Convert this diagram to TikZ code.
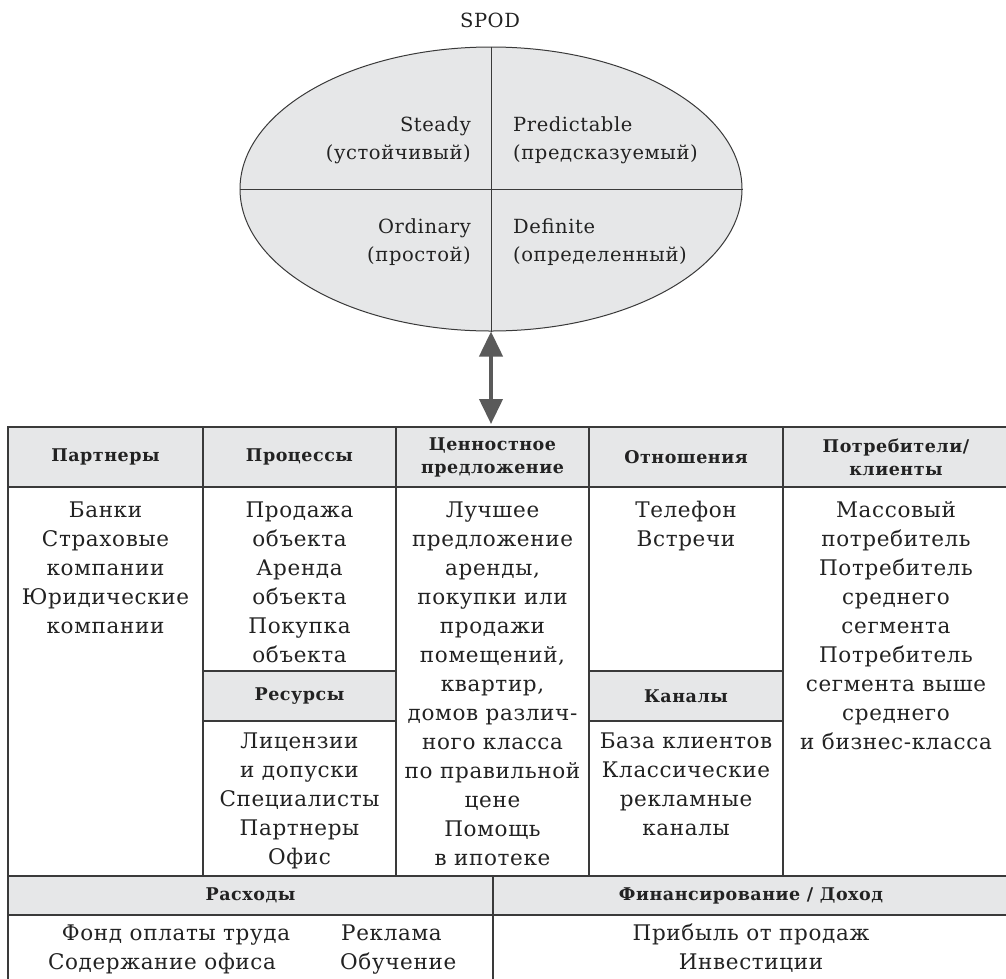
\documentclass[tikz,border=0pt]{standalone}
\usepackage{fontspec}
\setmainfont[LetterSpace=3]{DejaVu Serif}
\usetikzlibrary{arrows.meta,shapes.geometric}
\definecolor{cellgray}{HTML}{E6E7E8}
\definecolor{linec}{HTML}{3A3A3A}
\definecolor{arrowc}{HTML}{5A5A5A}
\definecolor{txt}{HTML}{222222}
\newcommand\bodyfs{\fontsize{21.5}{29}\selectfont}
\newcommand\ellfs{\fontsize{19.5}{28}\selectfont}
\newcommand\headfs{\fontsize{17.5}{23}\selectfont\bfseries}
\begin{document}
\begin{tikzpicture}[x=1pt,y=-1pt,
  body/.style={font=\bodyfs, text=txt, inner sep=0pt, align=center, anchor=north, yshift=20.3pt},
  ellr/.style={font=\ellfs, text=txt, inner sep=0pt, align=right, anchor=north east, yshift=19.6pt},
  elll/.style={font=\ellfs, text=txt, inner sep=0pt, align=left, anchor=north west, yshift=19.6pt},
  line/.style={font=\bodyfs, text=txt, inner sep=0pt},
  hcell/.style={draw=linec, line width=1.4pt, fill=cellgray, inner sep=0pt, align=center, font=\headfs, text=txt},
  grid/.style={draw=linec, line width=1.4pt},
]
\clip (0,0) rectangle (1006,978);
\fill[white] (0,0) rectangle (1006,978);

% SPOD ellipse
\node[font=\ellfs, text=txt, inner sep=0pt, anchor=base] (title) at (490,27) {SPOD};
\node[ellipse, draw=linec, line width=1pt, fill=cellgray, minimum width=502pt, minimum height=284pt, inner sep=0pt] (ell) at (491,189) {};
\draw[draw=linec, line width=1pt] (ell.north) -- (ell.south);
\draw[draw=linec, line width=1pt] (ell.west) -- (ell.east);
\node[ellr] (steady) at (471,131) {\strut Steady\\(устойчивый)};
\node[elll] (pred) at (513,131) {\strut Predictable\\(предсказуемый)};
\node[ellr] (ordin) at (471,233) {\strut Ordinary\\(простой)};
\node[elll] (defin) at (513,233) {\strut Definite\\(определенный)};

% arrow
\coordinate (tabtop) at (491,424);
\draw[arrowc, line width=4pt, {Triangle[length=25pt,width=23pt]}-{Triangle[length=25pt,width=23pt]}] (ell.south) -- (tabtop);

% table grid
\draw[grid] (8,1000) -- (8,427) -- (1012,427);
\draw[grid] (203,487) -- (203,876);
\draw[grid] (396,487) -- (396,876);
\draw[grid] (589,487) -- (589,876);
\draw[grid] (783,487) -- (783,876);
\draw[grid] (493,915) -- (493,1000);
\draw[grid] (8,876) -- (1012,876);

% header cells
\node[hcell, minimum width=195pt, minimum height=60pt] (h1) at (105.5,457) {Партнеры};
\node[hcell, minimum width=193pt, minimum height=60pt] (h2) at (299.5,457) {Процессы};
\node[hcell, minimum width=193pt, minimum height=60pt] (h3) at (492.5,457) {Ценностное\\предложение};
\node[hcell, minimum width=194pt, minimum height=60pt] (h4) at (686,457) {Отношения};
\node[hcell, minimum width=226pt, minimum height=60pt] (h5) at (896,457) {Потребители/\\клиенты};
\node[hcell, minimum width=193pt, minimum height=50pt] (h2b) at (299.5,696) {Ресурсы};
\node[hcell, minimum width=194pt, minimum height=50pt] (h4b) at (686,696) {Каналы};
\node[hcell, minimum width=485pt, minimum height=39pt] (h6) at (250.5,895.5) {Расходы};
\node[hcell, minimum width=516pt, minimum height=39pt] (h7) at (751,895.5) {Финансирование / Доход};

% body texts
\node[body] (b1) at (105.5,517) {\strut Банки\\Страховые\\компании\\Юридические\\компании};
\node[body] (b2) at (299.5,517) {\strut Продажа\\объекта\\Аренда\\объекта\\Покупка\\объекта};
\node[body] (b3) at (492.5,517) {\strut Лучшее\\предложение\\аренды,\\покупки или\\продажи\\помещений,\\квартир,\\домов различ-\\ного класса\\по правильной\\цене\\Помощь\\в ипотеке};
\node[body] (b4) at (686,517) {\strut Телефон\\Встречи};
\node[body] (b5) at (896,517) {\strut Массовый\\потребитель\\Потребитель\\среднего\\сегмента\\Потребитель\\сегмента выше\\среднего\\и бизнес-класса};
\node[body] (b2b) at (299.5,748) {\strut Лицензии\\и допуски\\Специалисты\\Партнеры\\Офис};
\node[body] (b4b) at (686,748) {\strut База клиентов\\Классические\\рекламные\\каналы};

% bottom texts
\node[line, anchor=base] (e1) at (176,940) {Фонд оплаты труда};
\node[line, anchor=base] (e2) at (162,969) {Содержание офиса};
\node[line, anchor=base west] (e3) at (341,940) {Реклама};
\node[line, anchor=base west] (e4) at (340,969) {Обучение};
\node[line, anchor=base] (f1) at (751,940) {Прибыль от продаж};
\node[line, anchor=base] (f2) at (751,969) {Инвестиции};
\end{tikzpicture}
\end{document}
